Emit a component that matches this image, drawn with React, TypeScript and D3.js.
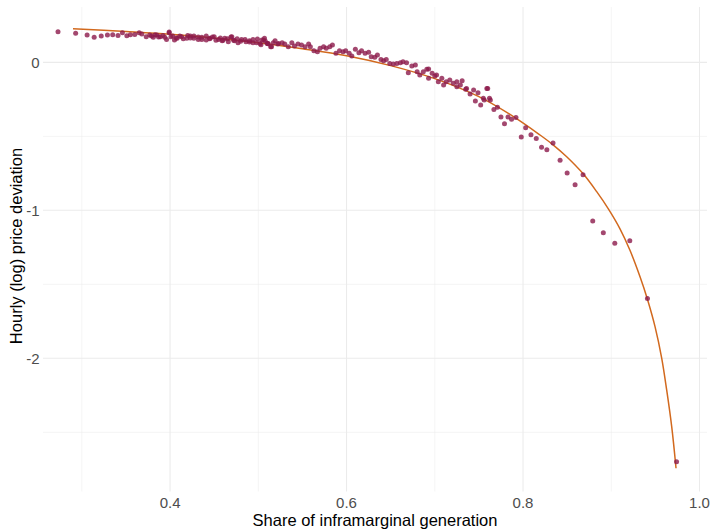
import React from "react";
import * as d3 from "d3";

// scatter: share of inframarginal generation vs hourly (log) price deviation
const pointShare = [
  0.273, 0.293, 0.306, 0.314, 0.322, 0.329, 0.335, 0.341, 0.346, 0.351, 0.355, 0.360, 0.365, 0.368,
  0.373, 0.377, 0.381, 0.385, 0.389, 0.394, 0.399, 0.401, 0.405, 0.408, 0.413, 0.419, 0.423, 0.427,
  0.432, 0.436, 0.441, 0.445, 0.450, 0.455, 0.459, 0.462, 0.466, 0.470, 0.473, 0.477, 0.481, 0.486,
  0.490, 0.494, 0.499, 0.502, 0.506, 0.510, 0.514, 0.517, 0.522,
  0.379, 0.383, 0.387, 0.392, 0.396, 0.399, 0.403, 0.407, 0.411, 0.415, 0.420, 0.423, 0.427, 0.432,
  0.436, 0.441, 0.445, 0.448, 0.452, 0.457, 0.460, 0.465, 0.469, 0.472, 0.476, 0.480, 0.485, 0.490,
  0.494, 0.498, 0.503, 0.508, 0.511,
  0.504, 0.507, 0.511, 0.515, 0.519, 0.523, 0.527, 0.530, 0.534, 0.538, 0.541, 0.545, 0.549, 0.553,
  0.557, 0.559, 0.563, 0.567, 0.570, 0.574, 0.577, 0.581, 0.584, 0.588, 0.592, 0.596, 0.599, 0.603,
  0.606, 0.610, 0.614, 0.617, 0.621, 0.625, 0.628, 0.632, 0.635, 0.639, 0.642, 0.645, 0.649, 0.653,
  0.657, 0.661, 0.664, 0.668, 0.670, 0.674, 0.678, 0.680, 0.683, 0.687, 0.691, 0.693, 0.697, 0.700,
  0.704, 0.708, 0.710, 0.713, 0.717, 0.721, 0.725, 0.729, 0.731, 0.736, 0.744, 0.749, 0.759, 0.762,
  0.755, 0.693, 0.702, 0.725, 0.735, 0.740, 0.746, 0.752, 0.756, 0.760, 0.763, 0.767, 0.771, 0.775,
  0.779, 0.783, 0.787, 0.792, 0.798, 0.803, 0.809, 0.815, 0.821, 0.827, 0.834, 0.842, 0.850, 0.859,
  0.868, 0.879, 0.891, 0.904, 0.921, 0.941, 0.974,
];
const pointDeviation = [
  0.207, 0.196, 0.184, 0.169, 0.178, 0.184, 0.186, 0.182, 0.200, 0.180, 0.186, 0.189, 0.200, 0.191,
  0.173, 0.184, 0.169, 0.184, 0.173, 0.169, 0.200, 0.173, 0.151, 0.162, 0.173, 0.162, 0.178, 0.162,
  0.155, 0.169, 0.151, 0.162, 0.173, 0.155, 0.146, 0.162, 0.139, 0.173, 0.146, 0.132, 0.155, 0.139,
  0.146, 0.132, 0.157, 0.128, 0.151, 0.128, 0.105, 0.132, 0.124,
  0.178, 0.186, 0.171, 0.182, 0.155, 0.205, 0.178, 0.164, 0.178, 0.159, 0.182, 0.164, 0.178, 0.171,
  0.155, 0.178, 0.159, 0.171, 0.149, 0.164, 0.149, 0.159, 0.171, 0.149, 0.159, 0.142, 0.155, 0.137,
  0.155, 0.132, 0.119, 0.142, 0.126,
  0.151, 0.162, 0.128, 0.105, 0.146, 0.128, 0.132, 0.124, 0.105, 0.132, 0.110, 0.124, 0.117, 0.105,
  0.124, 0.105, 0.078, 0.072, 0.095, 0.105, 0.095, 0.105, 0.117, 0.061, 0.078, 0.072, 0.078, 0.061,
  0.043, 0.088, 0.065, 0.078, 0.061, 0.068, 0.038, 0.034, 0.049, 0.020, 0.011, 0.020, -0.007, -0.011,
  -0.007, -0.003, 0.004, -0.003, -0.070, -0.025, -0.018, -0.064, -0.086, -0.064, -0.047, -0.108, -0.074, -0.093,
  -0.131, -0.108, -0.153, -0.131, -0.120, -0.142, -0.131, -0.153, -0.124, -0.176, -0.187, -0.205, -0.176, -0.243,
  -0.243, -0.045, -0.086, -0.165, -0.182, -0.214, -0.261, -0.288, -0.255, -0.176, -0.255, -0.318, -0.304, -0.370,
  -0.415, -0.370, -0.385, -0.372, -0.505, -0.442, -0.489, -0.514, -0.574, -0.590, -0.545, -0.662, -0.748, -0.827,
  -0.759, -1.072, -1.151, -1.223, -1.205, -1.595, -2.699,
];

// fitted curve
const fitShare = [
  0.29, 0.35, 0.4, 0.45, 0.5, 0.55, 0.6, 0.65, 0.7, 0.75, 0.79, 0.8193, 0.8344, 0.8495, 0.8684,
  0.8835, 0.8967, 0.9099, 0.9212, 0.9326, 0.9409, 0.9496, 0.9572, 0.9628, 0.9685, 0.9734,
];
const fitDeviation = [
  0.227, 0.208, 0.19, 0.165, 0.132, 0.092, 0.045, -0.022, -0.11, -0.232, -0.37, -0.491, -0.559,
  -0.638, -0.755, -0.874, -0.99, -1.125, -1.27, -1.449, -1.599, -1.786, -2.0, -2.214, -2.462, -2.743,
];

const xMajor = [0.4, 0.6, 0.8, 1.0];
const xMinor = [0.3, 0.5, 0.7, 0.9];
const yMajor = [0, -1, -2];
const yMinor = [-0.5, -1.5, -2.5];

const W = 714;
const H = 530;
const panel = { left: 43, right: 707, top: 7, bottom: 491.5 };
const font = "'Liberation Sans', Arial, Helvetica, sans-serif";

export default function App() {
  const x = d3.scaleLinear().domain([0.256, 1.0085]).range([panel.left, panel.right]);
  const y = d3.scaleLinear().domain([-2.9, 0.374]).range([panel.bottom, panel.top]);

  const fit = fitShare.map((s, i) => [s, fitDeviation[i]] as [number, number]);
  const line = d3
    .line<[number, number]>()
    .x((d) => x(d[0]))
    .y((d) => y(d[1]))
    .curve(d3.curveCatmullRom.alpha(0.5));

  return (
    <svg width={W} height={H} style={{ position: "absolute", left: 0, top: 0, background: "#fff" }}>
      <g>
        {xMinor.map((v) => (
          <line key={"xm" + v} x1={x(v)} x2={x(v)} y1={panel.top} y2={panel.bottom} stroke="#ebebeb" strokeWidth={0.55} />
        ))}
        {yMinor.map((v) => (
          <line key={"ym" + v} x1={panel.left} x2={panel.right} y1={y(v)} y2={y(v)} stroke="#ebebeb" strokeWidth={0.55} />
        ))}
        {xMajor.map((v) => (
          <line key={"xM" + v} x1={x(v)} x2={x(v)} y1={panel.top} y2={panel.bottom} stroke="#ebebeb" strokeWidth={1.07} />
        ))}
        {yMajor.map((v) => (
          <line key={"yM" + v} x1={panel.left} x2={panel.right} y1={y(v)} y2={y(v)} stroke="#ebebeb" strokeWidth={1.07} />
        ))}
      </g>

      <path d={line(fit) ?? ""} fill="none" stroke="#d2691e" strokeWidth={1.5} />

      <g>
        {pointShare.map((s, i) => (
          <circle key={i} cx={x(s)} cy={y(pointDeviation[i])} r={2.5} fill="#8c1a4b" fillOpacity={0.8} />
        ))}
      </g>

      <g fontFamily={font} fontSize={15} fill="#4d4d4d">
        {xMajor.map((v) => (
          <text key={"xt" + v} x={x(v)} y={507.5} textAnchor="middle">
            {d3.format(".1f")(v)}
          </text>
        ))}
        {yMajor.map((v) => (
          <text key={"yt" + v} x={39.5} y={y(v)} dy="0.35em" textAnchor="end">
            {v}
          </text>
        ))}
      </g>

      <text x={375} y={526} textAnchor="middle" fontFamily={font} fontSize={16.5} fill="#000">
        Share of inframarginal generation
      </text>
      <text
        transform={`translate(21.5, 246) rotate(-90)`}
        textAnchor="middle"
        fontFamily={font}
        fontSize={16.5}
        fill="#000"
      >
        Hourly (log) price deviation
      </text>
    </svg>
  );
}
